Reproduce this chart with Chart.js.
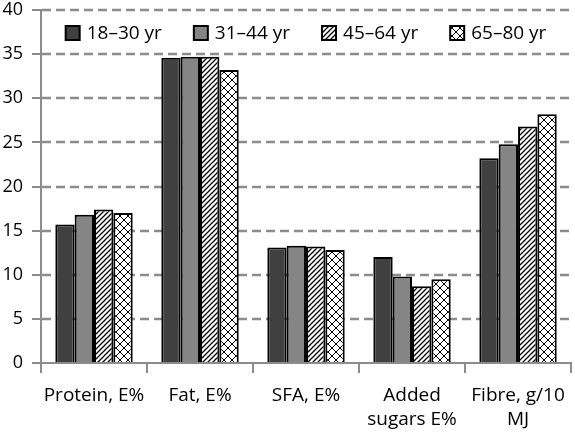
<!DOCTYPE html>
<html>
<head>
<meta charset="utf-8">
<script src="https://cdn.jsdelivr.net/npm/chart.js@4.4.0/dist/chart.umd.min.js"></script>
<style>
  html, body { margin: 0; padding: 0; background: #fff; }
  #wrap { width: 575px; height: 432px; }
</style>
</head>
<body>
<div id="wrap"><canvas id="myChart" width="575" height="432"></canvas></div>
<script>
// data
const categories = ['Protein, E%', 'Fat, E%', 'SFA, E%', ['Added', 'sugars E%'], ['Fibre, g/10', 'MJ']];
const groupNames = ['18–30 yr', '31–44 yr', '45–64 yr', '65–80 yr'];
const age18to30 = [15.7, 34.6, 13.1, 12.0, 23.2];
const age31to44 = [16.8, 34.7, 13.3, 9.8, 24.8];
const age45to64 = [17.4, 34.7, 13.2, 8.7, 26.8];
const age65to80 = [17.0, 33.2, 12.8, 9.5, 28.2];
const yMin = 0, yMax = 40, yStep = 5;

// hatch fills
const makePattern = (size, draw) => {
   const c = document.createElement('canvas');
   c.width = size; c.height = size;
   const p = c.getContext('2d');
   p.fillStyle = '#fff';
   p.fillRect(0, 0, size, size);
   p.strokeStyle = '#000';
   draw(p, size);
   return document.getElementById('myChart').getContext('2d').createPattern(c, 'repeat');
}
const diagonal = makePattern(5, (p, s) => {
   p.lineWidth = 1.3;
   p.beginPath();
   p.moveTo(-1, s + 1); p.lineTo(s + 1, -1);
   p.moveTo(-1, 1); p.lineTo(1, -1);
   p.moveTo(s - 1, s + 1); p.lineTo(s + 1, s - 1);
   p.stroke();
});
const crossed = makePattern(8, (p, s) => {
   p.lineWidth = 1;
   p.beginPath();
   p.moveTo(0, 0); p.lineTo(s, s);
   p.moveTo(0, s); p.lineTo(s, 0);
   p.stroke();
});
const fills = ['#404040', '#858585', diagonal, crossed];
const seriesValues = [age18to30, age31to44, age45to64, age65to80];

// dashed horizontal gridlines taken from the y scale ticks
const dashedGrid = {
   id: 'dashedGrid',
   beforeDatasetsDraw(chart) {
      const ctx = chart.ctx, area = chart.chartArea, y = chart.scales.y;
      ctx.save();
      ctx.strokeStyle = '#8c8c8c';
      ctx.lineWidth = 2.5;
      ctx.setLineDash([9, 5]);
      y.ticks.forEach(t => {
         if (t.value === yMin) return;
         const py = Math.round(y.getPixelForValue(t.value));
         ctx.beginPath();
         ctx.moveTo(area.left + 1, py);
         ctx.lineTo(area.right + 2, py);
         ctx.stroke();
      });
      ctx.restore();
   }
};

// legend drawn inside the plot, like the original
const insideLegend = {
   id: 'insideLegend',
   afterDraw(chart) {
      const ctx = chart.ctx, area = chart.chartArea;
      ctx.save();
      ctx.font = '19px "Open Sans"';
      const box = 14, gapBox = 7, gapItem = 32;
      const items = chart.data.datasets.map(ds => ({
         text: ds.label, fill: ds.backgroundColor,
         w: box + gapBox + ctx.measureText(ds.label).width
      }));
      const total = items.reduce((s, it) => s + it.w, 0) + gapItem * (items.length - 1);
      let x = (area.left + area.right) / 2 - total / 2;
      const y = area.top + 23;
      items.forEach(it => {
         ctx.fillStyle = it.fill;
         ctx.fillRect(x, y - box / 2, box, box);
         ctx.lineWidth = 2;
         ctx.strokeStyle = '#000';
         ctx.strokeRect(x, y - box / 2, box, box);
         ctx.fillStyle = '#000';
         ctx.textBaseline = 'middle';
         ctx.textAlign = 'left';
         ctx.fillText(it.text, x + box + gapBox, y + 1);
         x += it.w + gapItem;
      });
      ctx.restore();
   }
};

Chart.defaults.font.family = '"Open Sans", sans-serif';
Chart.defaults.color = '#000';

const ctx = document.getElementById('myChart').getContext('2d');
new Chart(ctx, {
   type: 'bar',
   data: {
      labels: categories,
      datasets: groupNames.map((name, i) => ({
         label: name,
         data: seriesValues[i],
         backgroundColor: fills[i],
         borderColor: '#000',
         borderWidth: 2,
         barPercentage: 1,
         categoryPercentage: 0.73
      }))
   },
   options: {
      responsive: false,
      animation: false,
      layout: { padding: { top: 10, right: 2, left: 0, bottom: 0 } },
      plugins: {
         legend: { display: false },
         tooltip: { enabled: false }
      },
      scales: {
         x: {
            afterFit: scale => { scale.height = 69; },
            grid: {
               offset: true,
               drawOnChartArea: false,
               color: '#8c8c8c',
               lineWidth: 2,
               tickLength: 10
            },
            border: { color: '#8c8c8c', width: 2 },
            ticks: { font: { size: 19, lineHeight: 1.3 }, padding: 10, maxRotation: 0, autoSkip: false }
         },
         y: {
            min: yMin,
            max: yMax,
            afterFit: scale => {
               scale.width = 41;
               scale.paddingTop = 0;
               scale.paddingBottom = 0;
            },
            grid: {
               drawOnChartArea: false,
               color: '#8c8c8c',
               lineWidth: 2,
               tickLength: 9
            },
            border: { color: '#8c8c8c', width: 2 },
            ticks: { stepSize: yStep, font: { size: 18 }, padding: 9 }
         }
      }
   },
   plugins: [dashedGrid, insideLegend]
});
</script>
</body>
</html>
